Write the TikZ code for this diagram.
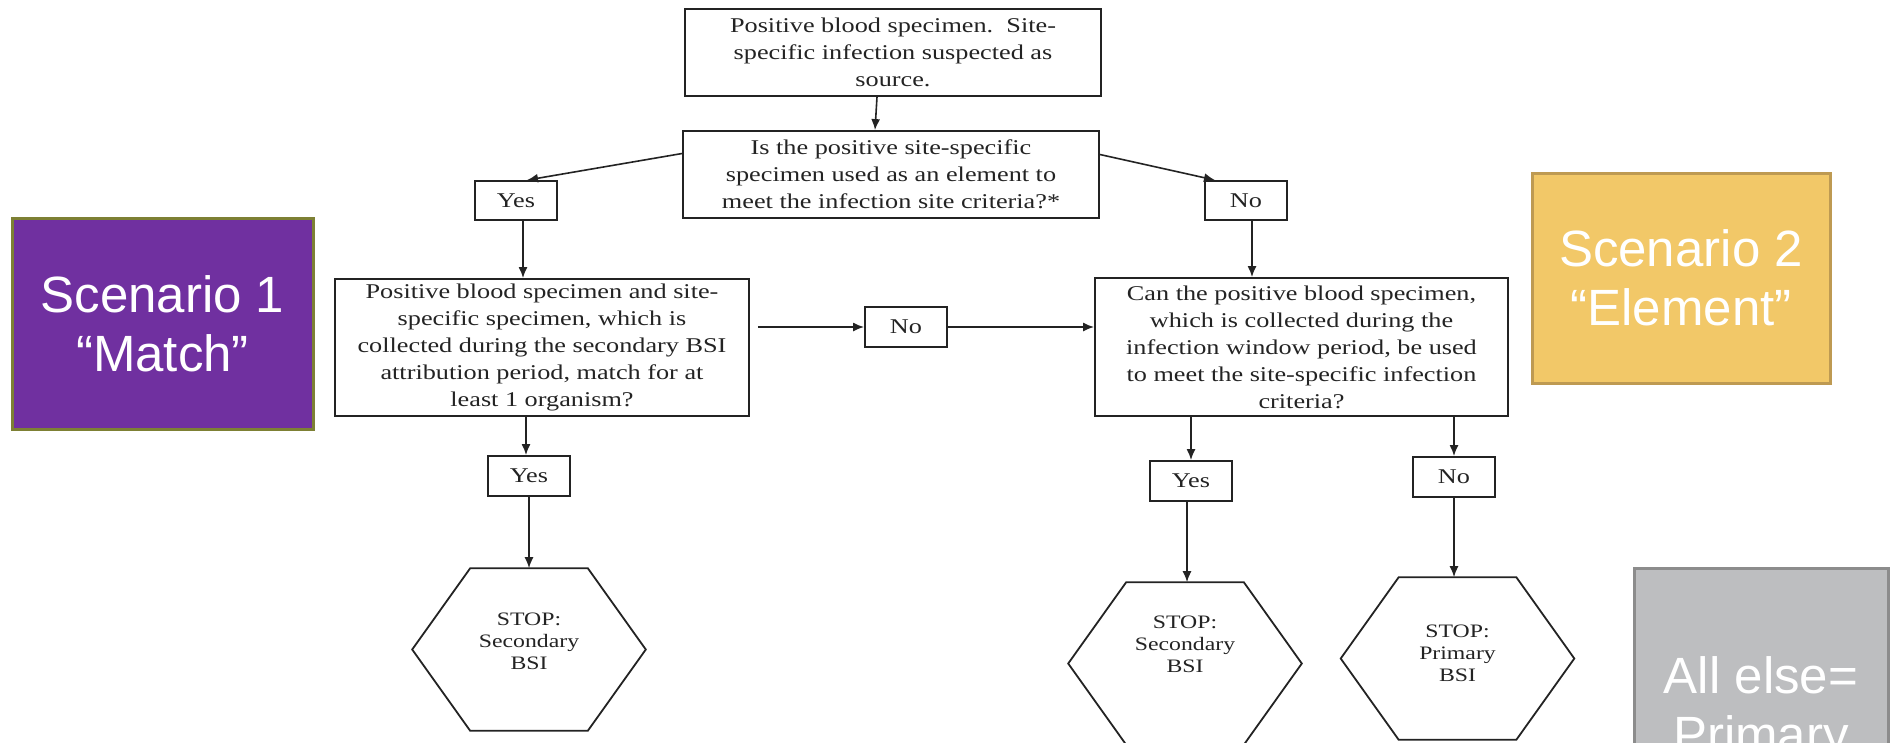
\documentclass[tikz,border=0pt]{standalone}
\usepackage{fontspec}
\setmainfont[FakeStretch=1.25]{Liberation Serif}
\newfontfamily\scenfont{Liberation Sans}
\usetikzlibrary{arrows.meta}

\definecolor{matchpurple}{RGB}{112,48,160}
\definecolor{matchedge}{RGB}{125,128,52}
\definecolor{elemgold}{RGB}{242,200,104}
\definecolor{elemedge}{RGB}{190,154,82}
\definecolor{elsegray}{RGB}{189,190,192}
\definecolor{elseedge}{RGB}{140,140,140}
\definecolor{ink}{RGB}{35,35,35}

\tikzset{
	box/.style={draw=ink, line width=1.8pt, text=ink, align=center, inner sep=0pt,
		font=\fontsize{21}{27}\selectfont},
	answer/.style={box, minimum width=82pt, minimum height=39pt},
	stopnode/.style={align=center, text=ink, minimum width=232pt, minimum height=161pt,
		font=\fontsize{19}{22}\selectfont},
	scenario/.style={line width=3pt, text=white, align=center,
		font=\scenfont\fontsize{51}{59}\selectfont},
}

\newcommand{\hexframe}[1]{%
	\draw[ink, line width=1.8pt] (#1.west) -- ([xshift=58pt]#1.north west)
	-- ([xshift=-58pt]#1.north east) -- (#1.east)
	-- ([xshift=-58pt]#1.south east) -- ([xshift=58pt]#1.south west) -- cycle;}

\begin{document}
\begin{tikzpicture}[x=1pt, y=-1pt, line width=1.6pt, >={Latex[length=11pt,width=9pt]}]
	\useasboundingbox (0,0) rectangle (1892,742);
	\clip (0,0) rectangle (1892,742);

	% question boxes
	\node[box, minimum width=416pt, minimum height=87pt] (source) at (893,52.5)
		{Positive blood specimen.\ \ Site-\\specific infection suspected as\\source.};
	\node[box, minimum width=416pt, minimum height=87pt] (element) at (891,174.5)
		{Is the positive site-specific\\specimen used as an element to\\meet the infection site criteria?*};
	\node[box, minimum width=414pt, minimum height=137pt] (match) at (542,347.5)
		{Positive blood specimen and site-\\specific specimen, which is\\collected during the secondary BSI\\attribution period, match for at\\least 1 organism?};
	\node[box, minimum width=413pt, minimum height=138pt] (window) at (1301.5,347)
		{Can the positive blood specimen,\\which is collected during the\\infection window period, be used\\to meet the site-specific infection\\criteria?};

	% answers
	\node[answer] (yesel) at (516,200.5) {Yes};
	\node[answer] (noel) at (1246,200.5) {No};
	\node[answer, minimum height=40pt] (nomatch) at (906,327) {No};
	\node[answer, minimum height=40pt] (yesmatch) at (529,476) {Yes};
	\node[answer, minimum height=40pt] (yeswin) at (1191,481) {Yes};
	\node[answer, minimum height=40pt] (nowin) at (1454,477) {No};

	% stop hexagons
	\node[stopnode, text depth=16pt] (stopsec) at (529,649.5) {STOP:\\Secondary\\BSI};
	\node[stopnode, text depth=38pt] (stopsectwo) at (1185,663.5) {STOP:\\Secondary\\BSI};
	\node[stopnode, text depth=10pt] (stopprim) at (1457.5,658.5) {STOP:\\Primary\\BSI};
	\hexframe{stopsec}
	\hexframe{stopsectwo}
	\hexframe{stopprim}

	% scenario labels
	\node[scenario, draw=matchedge, fill=matchpurple, minimum width=301pt, minimum height=211pt]
		(scenone) at (162.5,323.5) {Scenario 1\\“Match”};
	\node[scenario, draw=elemedge, fill=elemgold, minimum width=298pt, minimum height=210pt]
		(scentwo) at (1681,278) {Scenario 2\\“Element”};
	\node[scenario, draw=elseedge, fill=elsegray, minimum width=254pt, minimum height=284pt]
		(allelse) at (1761,710) {All else=\\Primary};

	% connectors
	\draw[->, ink] ([xshift=-16pt]source.south) -- ([xshift=-16pt]element.north);
	\draw[->, ink] ([yshift=21pt]element.west) -- ([xshift=11pt]yesel.north);
	\draw[->, ink] ([yshift=20pt]element.east) -- ([xshift=-31pt]noel.north);
	\draw[->, ink] ([xshift=7pt]yesel.south) -- ([xshift=7pt]yesel.south |- match.north);
	\draw[->, ink] ([xshift=6pt]noel.south) -- ([xshift=6pt]noel.south |- window.north);
	\draw[->, ink] ([xshift=8pt]match.east |- nomatch.west) -- (nomatch.west);
	\draw[->, ink] (nomatch.east) -- (nomatch.east -| window.west);
	\draw[->, ink] ([xshift=-3pt]yesmatch.north |- match.south) -- ([xshift=-3pt]yesmatch.north);
	\draw[->, ink] (yesmatch.south) -- (yesmatch.south |- stopsec.north);
	\draw[->, ink] (yeswin.north |- window.south) -- (yeswin.north);
	\draw[->, ink] ([xshift=-4pt]yeswin.south) -- ([xshift=-4pt]yeswin.south |- stopsectwo.north);
	\draw[->, ink] (nowin.north |- window.south) -- (nowin.north);
	\draw[->, ink] (nowin.south) -- (nowin.south |- stopprim.north);
\end{tikzpicture}
\end{document}
